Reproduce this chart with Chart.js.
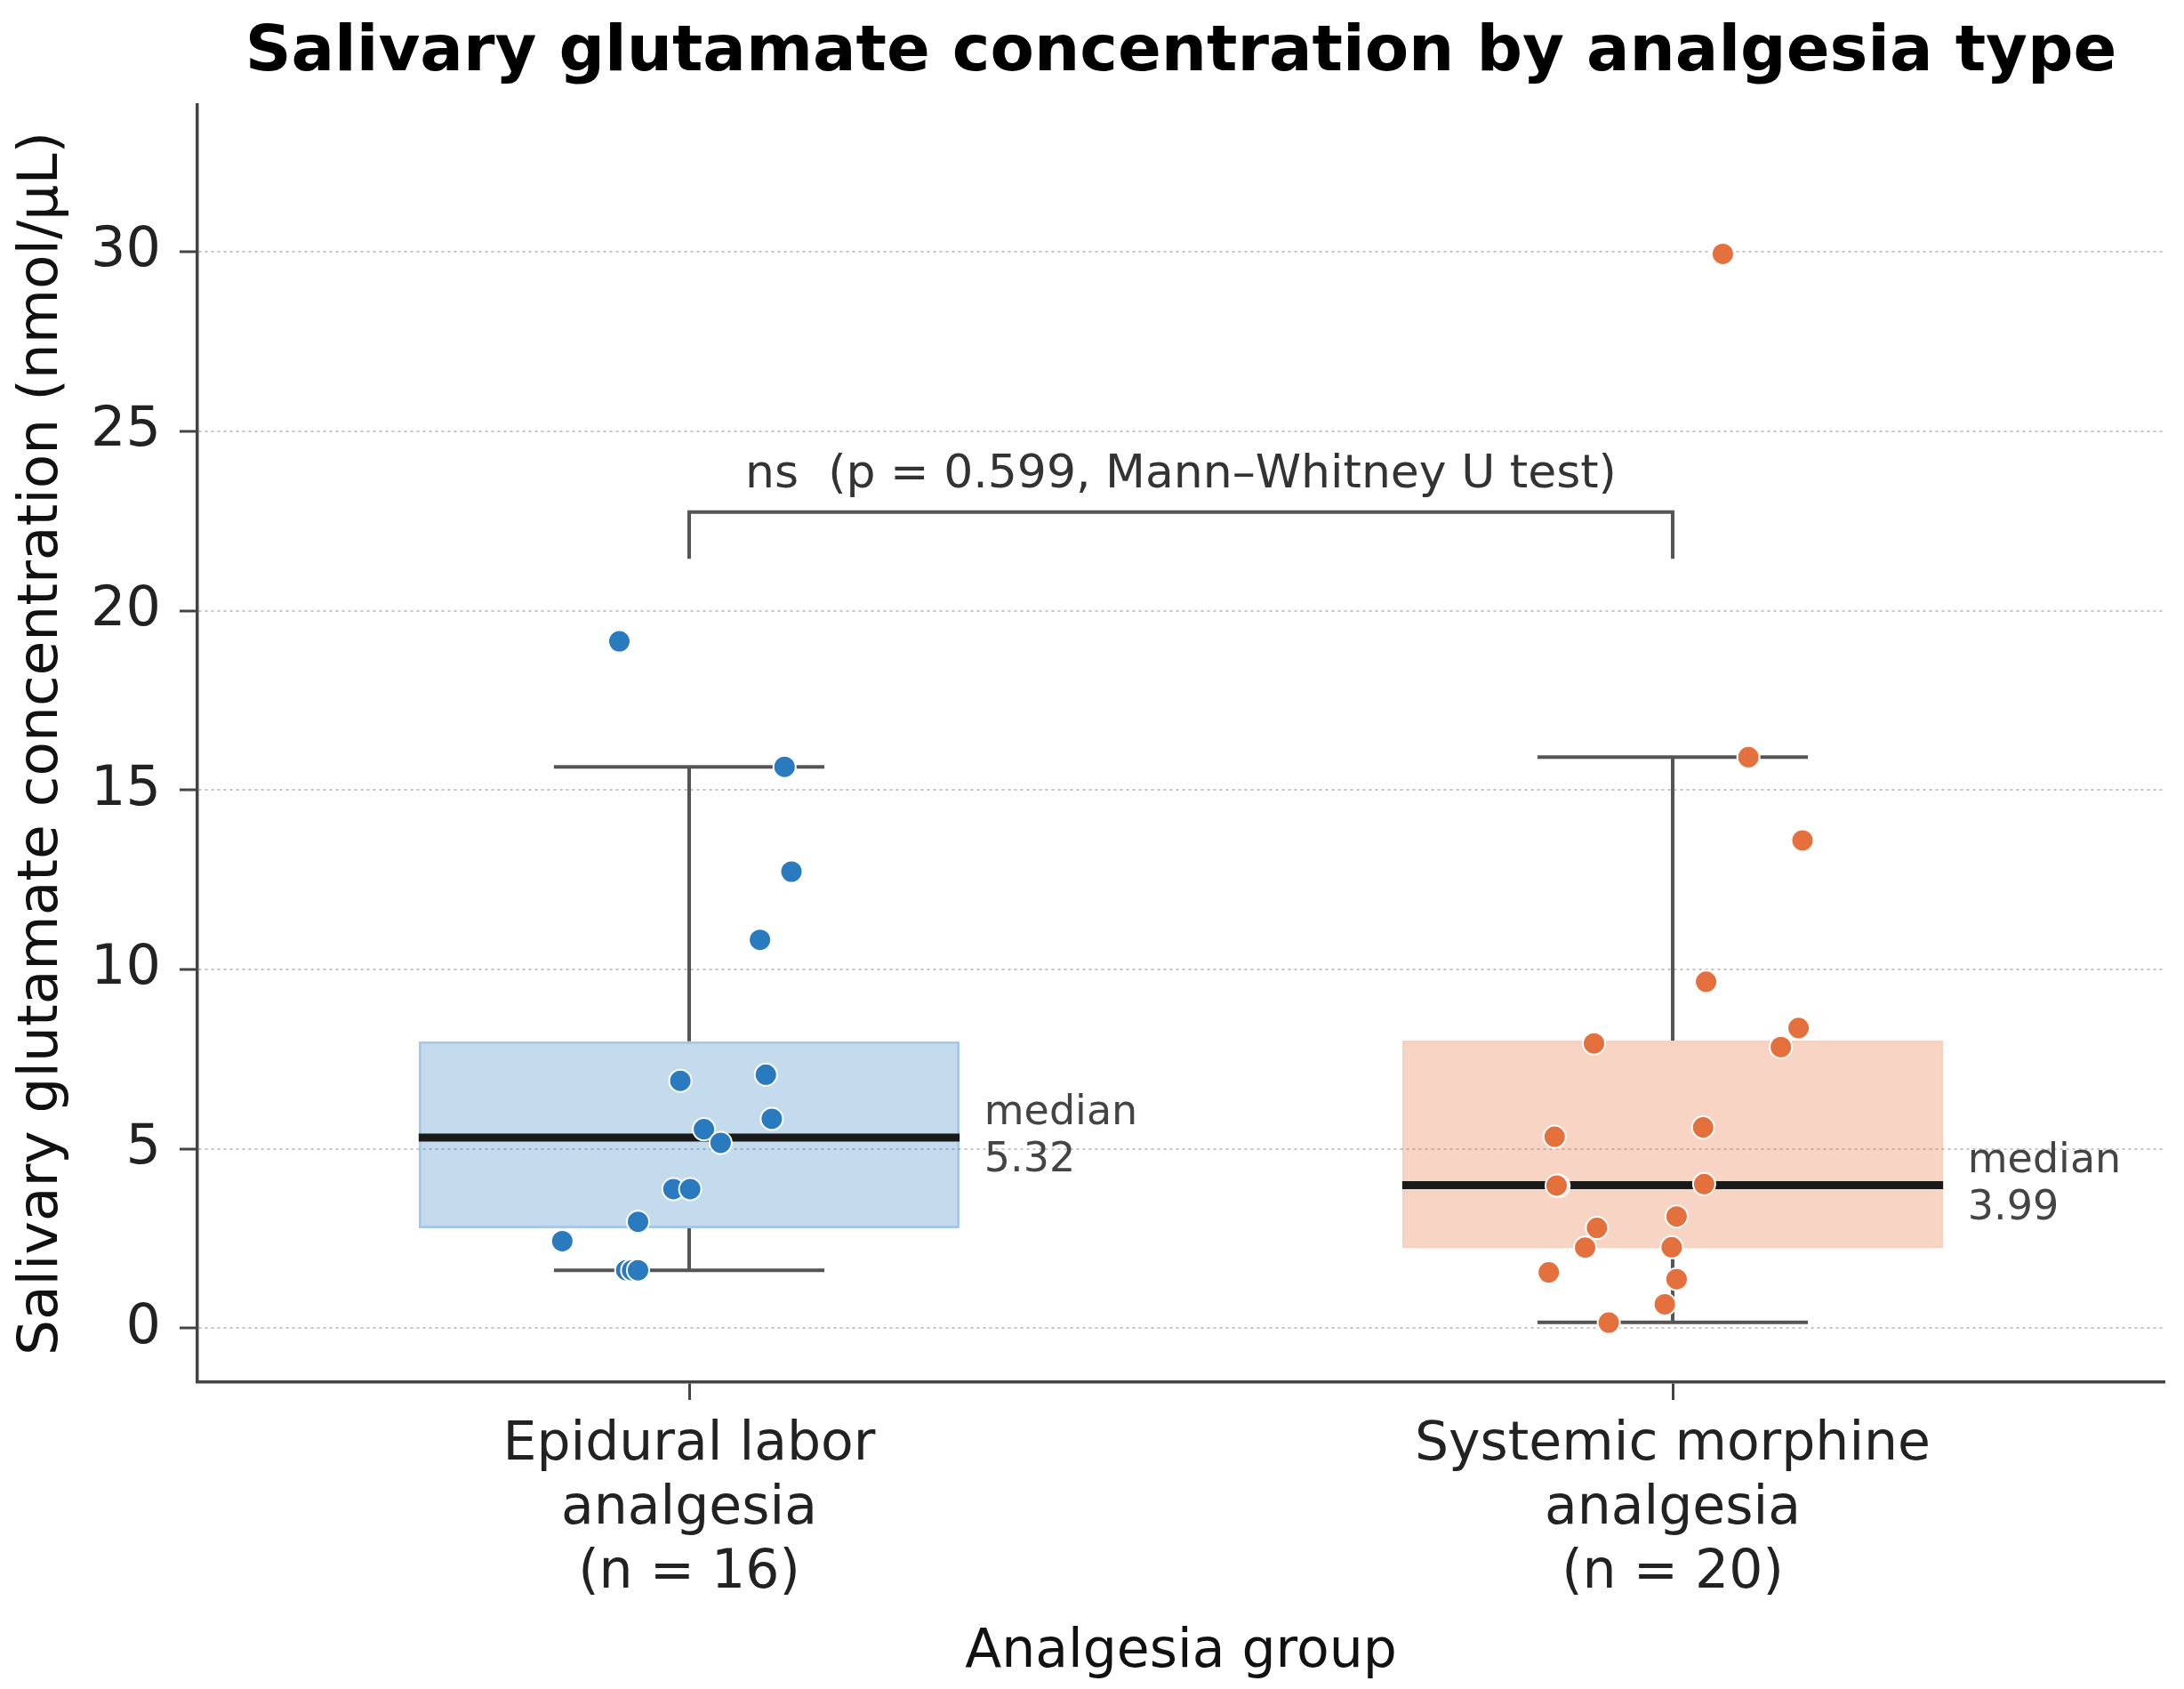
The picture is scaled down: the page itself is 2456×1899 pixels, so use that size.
<!DOCTYPE html>
<html>
<head>
<meta charset="utf-8">
<script src="https://cdn.jsdelivr.net/npm/chart.js@4.4.1/dist/chart.umd.min.js"></script>
<style>
  body { margin: 0; background: #fff; }
  #wrap { width: 2456px; height: 1899px; }
</style>
</head>
<body>
<div id="wrap"><canvas id="glutChart"></canvas></div>
<script>
// categories (multi-line tick labels)
var categories = [
	["Epidural labor", "analgesia", "(n = 16)"],
	["Systemic morphine", "analgesia", "(n = 20)"]
];
var chartTitle = 'Salivary glutamate concentration by analgesia type';

var epiduralValues = [19.15, 15.65, 12.73, 10.83, 7.07, 6.90, 5.84, 5.55, 5.17, 3.88, 3.88, 2.97, 2.43, 1.62, 1.62, 1.62];
var epiduralJitter = [-0.071, 0.097, 0.104, 0.072, 0.078, -0.009, 0.084, 0.015, 0.032, -0.016, 0.001, -0.052, -0.129, -0.064, -0.058, -0.052];
var morphineValues = [29.95, 15.92, 13.60, 9.66, 8.37, 7.84, 7.94, 5.60, 5.34, 3.97, 3.98, 4.02, 3.12, 2.80, 2.25, 2.26, 1.56, 1.37, 0.67, 0.16];
var morphineJitter = [0.051, 0.077, 0.132, 0.034, 0.128, 0.110, -0.080, 0.031, -0.120, -0.116, -0.118, 0.032, 0.004, -0.077, -0.089, -0.001, -0.126, 0.004, -0.008, -0.065];

// box statistics per group
var boxQ1 = [2.79, 2.23];
var boxQ3 = [8.00, 8.02];
var boxMedian = [5.32, 3.99];
var whiskerLow = [1.62, 0.17];
var whiskerHigh = [15.65, 15.92];

var yTicks = [0, 5, 10, 15, 20, 25, 30];
var pText = "ns  (p = 0.599, Mann\u2013Whitney U test)";
var bracketTop = 22.75;
var bracketFoot = 21.45;
var pTextY = 23.45;

var BOX_HALF = 0.275;
var CAP_HALF = 0.1375;

function toPoints(vals, jit, g) {
	return vals.map(function (v, i) { return { x: g + jit[i], y: v }; });
}

var boxParts = {
	id: 'boxParts',
	afterDatasetDraw: function (chart, args) {
		if (args.index !== 0) return;
		var ctx = chart.ctx, x = chart.scales.x, y = chart.scales.y;
		ctx.save();
		ctx.setLineDash([]);
		ctx.strokeStyle = '#555555';
		ctx.lineWidth = 4;
		for (var i = 0; i < boxQ1.length; i++) {
			var cx = x.getPixelForValue(i);
			var l = x.getPixelForValue(i - CAP_HALF), r = x.getPixelForValue(i + CAP_HALF);
			ctx.beginPath();
			ctx.moveTo(cx, y.getPixelForValue(boxQ3[i]));
			ctx.lineTo(cx, y.getPixelForValue(whiskerHigh[i]));
			ctx.moveTo(l, y.getPixelForValue(whiskerHigh[i]));
			ctx.lineTo(r, y.getPixelForValue(whiskerHigh[i]));
			ctx.moveTo(cx, y.getPixelForValue(boxQ1[i]));
			ctx.lineTo(cx, y.getPixelForValue(whiskerLow[i]));
			ctx.moveTo(l, y.getPixelForValue(whiskerLow[i]));
			ctx.lineTo(r, y.getPixelForValue(whiskerLow[i]));
			ctx.stroke();
		}
		ctx.strokeStyle = '#1a1a1a';
		ctx.lineWidth = 9;
		for (var j = 0; j < boxMedian.length; j++) {
			var my = y.getPixelForValue(boxMedian[j]);
			ctx.beginPath();
			ctx.moveTo(x.getPixelForValue(j - BOX_HALF), my);
			ctx.lineTo(x.getPixelForValue(j + BOX_HALF), my);
			ctx.stroke();
		}
		ctx.restore();
	},
	afterDatasetsDraw: function (chart) {
		var ctx = chart.ctx, x = chart.scales.x, y = chart.scales.y;
		ctx.save();
		// significance bracket
		ctx.strokeStyle = '#555555';
		ctx.lineWidth = 4;
		ctx.beginPath();
		ctx.moveTo(x.getPixelForValue(0), y.getPixelForValue(bracketFoot));
		ctx.lineTo(x.getPixelForValue(0), y.getPixelForValue(bracketTop));
		ctx.lineTo(x.getPixelForValue(1), y.getPixelForValue(bracketTop));
		ctx.lineTo(x.getPixelForValue(1), y.getPixelForValue(bracketFoot));
		ctx.stroke();
		ctx.fillStyle = '#333333';
		ctx.font = "52px 'DejaVu Sans'";
		ctx.textAlign = 'center';
		ctx.textBaseline = 'alphabetic';
		ctx.fillText(pText, x.getPixelForValue(0.5), y.getPixelForValue(pTextY));
		// median labels
		ctx.font = "46px 'DejaVu Sans'";
		ctx.textAlign = 'left';
		ctx.textBaseline = 'middle';
		ctx.fillStyle = '#444444';
		for (var i = 0; i < boxMedian.length; i++) {
			var tx = x.getPixelForValue(i + BOX_HALF + 0.025);
			var ty = y.getPixelForValue(boxMedian[i]);
			ctx.fillText('median', tx, ty - 26.5);
			ctx.fillText(boxMedian[i].toFixed(2), tx, ty + 26.5);
		}
		// title, centred over the plot area
		var area = chart.chartArea;
		ctx.fillStyle = '#000000';
		ctx.font = "bold 72px 'DejaVu Sans'";
		ctx.textAlign = 'center';
		ctx.textBaseline = 'middle';
		ctx.fillText(chartTitle, (area.left + area.right) / 2, 60);
		ctx.restore();
	}
};

function loadChart() {
	Chart.defaults.font.family = "'DejaVu Sans'";
	var ctx = document.getElementById('glutChart');
	new Chart(ctx, {
		type: 'bar',
		data: {
			datasets: [{
				type: 'bar',
				order: 3,
				data: [{ x: 0, y: [boxQ1[0], boxQ3[0]] }, { x: 1, y: [boxQ1[1], boxQ3[1]] }],
				backgroundColor: ['rgba(42,122,192,0.28)', 'rgba(227,112,61,0.30)'],
				borderColor: ['rgba(42,122,192,0.42)', 'rgba(227,112,61,0.32)'],
				borderWidth: 3,
				borderSkipped: false,
				barPercentage: 0.55,
				categoryPercentage: 1.0
			}, {
				type: 'scatter',
				order: 2,
				data: toPoints(epiduralValues, epiduralJitter, 0),
				backgroundColor: '#2a7ac0',
				borderColor: '#ffffff',
				borderWidth: 2,
				pointRadius: 12.5
			}, {
				type: 'scatter',
				order: 1,
				data: toPoints(morphineValues, morphineJitter, 1),
				backgroundColor: '#e3703d',
				borderColor: '#ffffff',
				borderWidth: 2,
				pointRadius: 12.5
			}]
		},
		options: {
			responsive: true,
			maintainAspectRatio: false,
			devicePixelRatio: 1,
			animation: false,
			events: [],
			layout: { padding: { left: 0, right: 22, top: 118, bottom: 0 } },
			plugins: {
				legend: { display: false },
				tooltip: { enabled: false },
				title: { display: false }
			},
			scales: {
				x: {
					type: 'linear',
					min: -0.5,
					max: 1.5,
					offset: false,
					afterFit: function (s) { s.height = 345; },
					afterBuildTicks: function (s) { s.ticks = [{ value: 0 }, { value: 1 }]; },
					ticks: {
						color: '#222222',
						font: { size: 60 },
						padding: 15,
						maxRotation: 0,
						autoSkip: false,
						callback: function (v) { return categories[v]; }
					},
					grid: { offset: false, drawOnChartArea: false, drawTicks: true, tickLength: 20, tickColor: '#444444', tickWidth: 3 },
					border: { display: true, color: '#444444', width: 3.5 },
					title: {
						display: true,
						text: 'Analgesia group',
						color: '#111111',
						font: { size: 60 },
						padding: { top: 0, bottom: 5 }
					}
				},
				y: {
					type: 'linear',
					min: -1.5,
					max: 34.1,
					afterFit: function (s) { s.width = 222; },
					afterBuildTicks: function (s) { s.ticks = yTicks.map(function (v) { return { value: v }; }); },
					ticks: { color: '#222222', font: { size: 62 }, padding: 21 },
					grid: { color: '#c4c4c4', lineWidth: 2, drawTicks: true, tickLength: 20, tickColor: '#444444', tickWidth: 3, tickBorderDash: [] },
					border: { display: true, color: '#444444', width: 3.5, dash: [3, 4] },
					title: {
						display: true,
						text: 'Salivary glutamate concentration (nmol/\u03bcL)',
						color: '#111111',
						font: { size: 63 },
						padding: { top: 10, bottom: 0 }
					}
				}
			}
		},
		plugins: [boxParts]
	});
}
window.addEventListener("load", function () { loadChart(); });
</script>
</body>
</html>
